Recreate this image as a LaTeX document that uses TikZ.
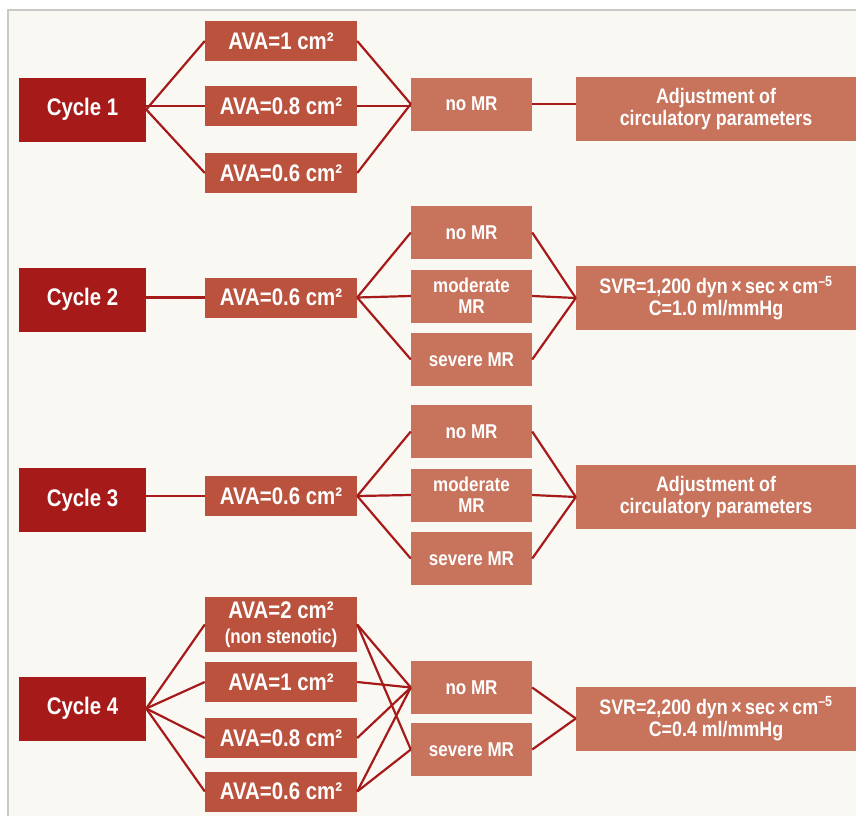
\documentclass[tikz,border=0pt]{standalone}
\usepackage{fontspec}
\setmainfont{Liberation Sans}[FakeStretch=0.85]
\usepackage{xcolor}
\usepackage{tikz}
\definecolor{cycred}{HTML}{A61B19}
\definecolor{avared}{HTML}{BA523D}
\definecolor{mrred}{HTML}{C8735C}
\definecolor{panelbg}{HTML}{F9F8F3}
\definecolor{panelline}{HTML}{C9C9C9}
\tikzset{
	box/.style={draw=none,text=white,align=center,inner sep=0pt},
	cycbox/.style={box,fill=cycred,minimum width=127pt,minimum height=64pt,font=\bfseries\fontsize{24}{26}\selectfont},
	avabox/.style={box,fill=avared,minimum width=152pt,minimum height=40pt,font=\bfseries\fontsize{24}{25}\selectfont},
	mrbox/.style={box,fill=mrred,minimum width=121pt,minimum height=53pt,font=\bfseries\fontsize{20}{21}\selectfont},
	outbox/.style={box,fill=mrred,minimum width=280pt,minimum height=64pt,font=\bfseries\fontsize{21}{22}\selectfont},
	link/.style={draw=cycred,line width=2.2pt}
}

\begin{document}
\begin{tikzpicture}[x=1pt,y=-1pt]
	\useasboundingbox (0,0) rectangle (856,816);
	\fill[panelbg] (8,10) rectangle (856,816);
	\draw[panelline,line width=1.5pt] (8,816) -- (8,10) -- (856,10);
	% cycle 1
	\node (c1) at(82.5,109.5)[cycbox]{Cycle 1};
	\node (a11) at(281,41)[avabox]{AVA=1 cm²};
	\node (a12) at(281,106)[avabox]{AVA=0.8 cm²};
	\node (a13) at(281,173)[avabox]{AVA=0.6 cm²};
	\node (m11) at(471.5,104)[mrbox]{no MR};
	\node (o1) at(716,109)[outbox]{Adjustment of\\circulatory parameters};
	% cycle 2
	\node (c2) at(82.5,299.5)[cycbox]{Cycle 2};
	\node (a21) at(281,297.5)[avabox]{AVA=0.6 cm²};
	\node (m21) at(471.5,232.5)[mrbox]{no MR};
	\node (m22) at(471.5,296)[mrbox]{moderate\\MR};
	\node (m23) at(471.5,359.5)[mrbox]{severe MR};
	\node (o2) at(716,298)[outbox]{SVR=1,200 dyn\,×\,sec\,×\,cm\textsuperscript{–5}\\C=1.0 ml/mmHg};
	% cycle 3
	\node (c3) at(82.5,500)[cycbox]{Cycle 3};
	\node (a31) at(281,496)[avabox]{AVA=0.6 cm²};
	\node (m31) at(471.5,431.5)[mrbox]{no MR};
	\node (m32) at(471.5,495)[mrbox]{moderate\\MR};
	\node (m33) at(471.5,558.5)[mrbox]{severe MR};
	\node (o3) at(716,497)[outbox]{Adjustment of\\circulatory parameters};
	% cycle 4
	\node (c4) at(82.5,708.5)[cycbox]{Cycle 4};
	\node (a41) at(281,624.5)[avabox,minimum height=55pt]{AVA=2 cm²\\{\fontsize{20}{21}\selectfont (non stenotic)}};
	\node (a42) at(281,682)[avabox]{AVA=1 cm²};
	\node (a43) at(281,738)[avabox]{AVA=0.8 cm²};
	\node (a44) at(281,791.5)[avabox]{AVA=0.6 cm²};
	\node (m41) at(471.5,687.5)[mrbox]{no MR};
	\node (m42) at(471.5,749.5)[mrbox]{severe MR};
	\node (o4) at(716,718.5)[outbox]{SVR=2,200 dyn\,×\,sec\,×\,cm\textsuperscript{–5}\\C=0.4 ml/mmHg};
	% links
	\draw[link] (c1.east) -- (a11.west);
	\draw[link] (c1.east |- a12.west) -- (a12.west);
	\draw[link] (c1.east) -- (a13.west);
	\foreach \a in {a11,a13}
		\draw[link] (\a.east) -- (m11.west);
	\draw[link] (a12.east) -- (m11.west |- a12.east);
	\draw[link] (m11.east) -- (o1.west |- m11.east);
	\draw[link] (c2.east |- a21.west) -- (a21.west);
	\draw[link] (c3.east |- a31.west) -- (a31.west);
	\foreach \n in {2,3}{
		\foreach \m in {1,2,3}{
			\draw[link] (a\n1.east) -- (m\n\m.west);
			\draw[link] (m\n\m.east) -- (o\n.west);
	}}
	\foreach \a in {a41,a42,a43,a44}
		\draw[link] (c4.east) -- (\a.west);
	\foreach \a/\m in {a41/m41,a41/m42,a42/m41,a43/m41,a44/m41,a44/m42}
		\draw[link] (\a.east) -- (\m.west);
	\foreach \m in {m41,m42}
		\draw[link] (\m.east) -- (o4.west);
\end{tikzpicture}
\end{document}
